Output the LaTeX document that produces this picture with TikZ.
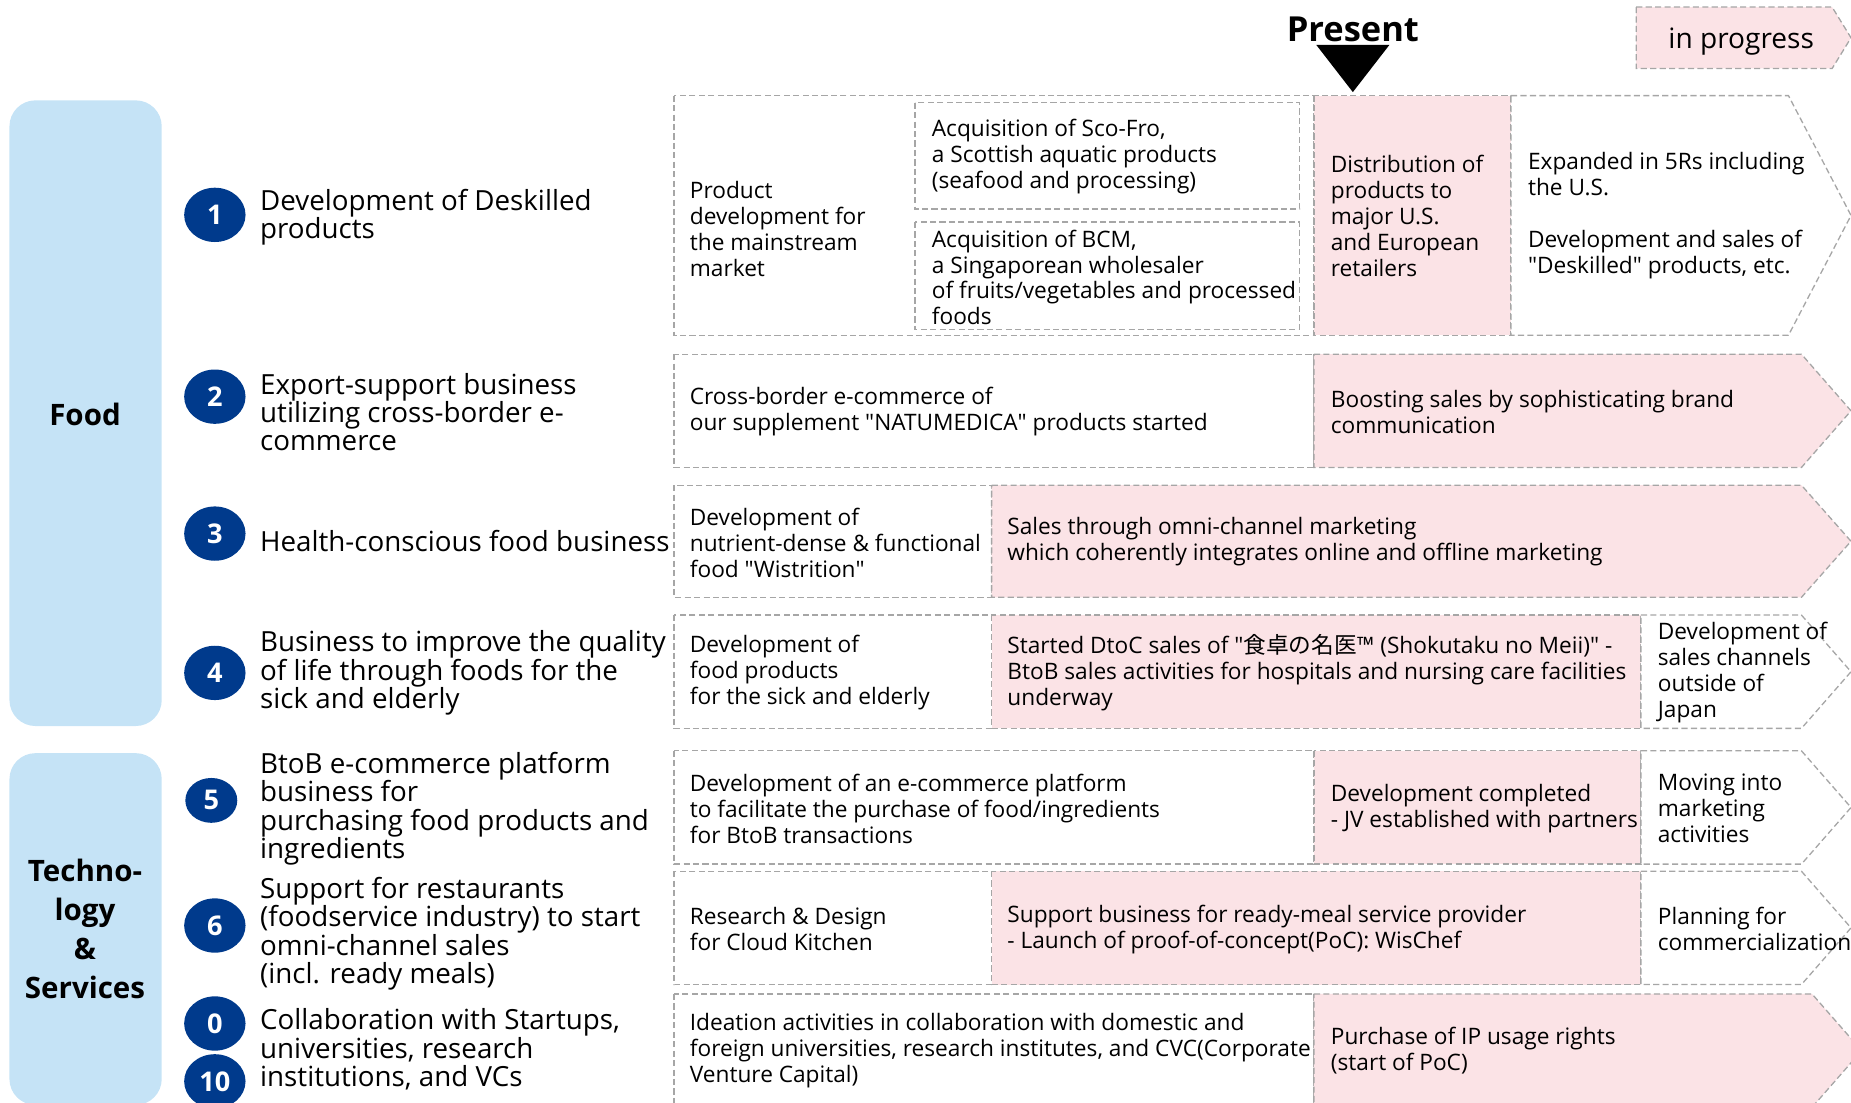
\documentclass[tikz,border=0pt]{standalone}
\usepackage{fontspec}
\setmainfont{Open Sans}
\newfontfamily\jpfont{Noto Sans CJK JP}
\usetikzlibrary{calc,positioning,shapes.geometric}

\definecolor{secblue}{HTML}{C5E3F6}
\definecolor{numnavy}{HTML}{003A8C}
\definecolor{progpink}{HTML}{FBE3E6}
\definecolor{dashgray}{HTML}{A6A6A6}

\newcommand{\itemfont}{\fontsize{11.75}{12}\selectfont}
\newcommand{\cellfont}{\fontsize{9.6}{11}\selectfont}
\newcommand{\qt}{\textquotedbl}

\tikzset{
  cell/.style={draw=dashgray,line width=.55pt,dash pattern=on 2.6pt off 1.4pt},
  whitecell/.style={cell,fill=white},
  pinkcell/.style={cell,fill=progpink},
  celltext/.style={anchor=west,align=left,inner sep=0pt,font=\cellfont},
  itemtext/.style={anchor=west,align=left,inner sep=0pt,font=\itemfont},
  numdot/.style={ellipse,fill=numnavy,text=white,inner sep=0pt,minimum width=26pt,minimum height=23pt,font=\fontsize{11.5}{12}\selectfont\bfseries},
  sectbox/.style={fill=secblue,rounded corners=11pt},
  secttext/.style={align=center,font=\fontsize{12.5}{16.5}\selectfont\bfseries},
}

\begin{document}
\begin{tikzpicture}[x=.5pt,y=-.5pt]
  \useasboundingbox (0,0) rectangle (1568,934);
  \clip (0,0) rectangle (1568,934);

  %% sections
  \fill[sectbox] (8,85) rectangle (137,615);
  \fill[sectbox] (8,638) rectangle (137,936);
  \node (food) [secttext] at (72,351) {Food};
  \node (tech) [secttext] at (72,787) {Techno-\\logy\\\&\\Services};

  %% numbered items
  \foreach \n/\y in {1/182,2/336,3/452,4/570,6/784,0/867,10/916}
    \node (num_\n) [numdot] at (182,\y) {\n};
  \node (num_5) [numdot,minimum width=22pt,minimum height=19pt] at (179,678) {5};

  \node (item_1) [itemtext] at (220,184) {Development of Deskilled\\products};
  \node (item_2) [itemtext] at (220,349) {Export-support business\\utilizing cross-border e-\\commerce};
  \node (item_3) [itemtext] at (220,458) {Health-conscious food business};
  \node (item_4) [itemtext] at (220,570) {Business to improve the quality\\of life through foods for the\\sick and elderly};
  \node (item_5) [itemtext] at (220,685) {BtoB e-commerce platform\\business for\\purchasing food products and\\ingredients};
  \node (item_6) [itemtext] at (220,791) {Support for restaurants\\(foodservice industry) to start\\omni-channel sales\\(incl. ready meals)};
  \node (item_0) [itemtext] at (220,889) {Collaboration with Startups,\\universities, research\\institutions, and VCs};

  %% legend and present marker
  \path[pinkcell] (1386,6) -- (1552,6) -- (1568,32) -- (1552,58) -- (1386,58) -- cycle;
  \node (legend) [font=\fontsize{11.9}{12}\selectfont] at (1475,35) {in progress};
  \node (present) [font=\fontsize{14.6}{15}\selectfont\bfseries] at (1146,25) {Present};
  \fill (1115,38) -- (1177,38) -- (1146,78) -- cycle;

  %% row 1
  \path[whitecell] (571,81) rectangle (1113,284);
  \path[pinkcell] (1113,81) rectangle (1280,284);
  \path[whitecell] (1280,81) -- (1515,81) -- (1568,182.5) -- (1515,284) -- (1280,284) -- cycle;
  \path[whitecell] (775,87) rectangle (1101,177);
  \path[whitecell] (775,188) rectangle (1101,279);
  \node (r1_a) [celltext] at (584,194) {Product\\development for\\the mainstream\\market};
  \node (r1_b) [celltext] at (789,133) {Acquisition of Sco-Fro,\\a Scottish aquatic products\\(seafood and processing)};
  \node (r1_c) [celltext] at (789,235) {Acquisition of BCM,\\a Singaporean wholesaler\\of fruits/vegetables and processed\\foods};
  \node (r1_d) [celltext] at (1127,183) {Distribution of\\products to\\major U.S.\\and European\\retailers};
  \node (r1_e) [celltext] at (1294,183) {Expanded in 5Rs including\\the U.S.\\[11pt]Development and sales of\\\qt Deskilled\qt{} products, etc.};

  %% row 2
  \path[whitecell] (571,300) rectangle (1113,396);
  \path[pinkcell] (1113,300) -- (1526,300) -- (1568,348) -- (1526,396) -- (1113,396) -- cycle;
  \node (r2_a) [celltext] at (584,349) {Cross-border e-commerce of\\our supplement \qt NATUMEDICA\qt{} products started};
  \node (r2_b) [celltext] at (1127,349) {Boosting sales by sophisticating brand\\communication};

  %% row 3
  \path[whitecell] (571,411) rectangle (840,506);
  \path[pinkcell] (840,411) -- (1526,411) -- (1568,458.5) -- (1526,506) -- (840,506) -- cycle;
  \node (r3_a) [celltext] at (584,460) {Development of\\nutrient-dense \& functional\\food \qt Wistrition\qt};
  \node (r3_b) [celltext] at (853,459) {Sales through omni-channel marketing\\which coherently integrates online and offline marketing};

  %% row 4
  \path[whitecell] (571,521) rectangle (840,617);
  \path[pinkcell] (840,521) rectangle (1390,617);
  \path[whitecell] (1390,521) -- (1526,521) -- (1568,569) -- (1526,617) -- (1390,617) -- cycle;
  \node (r4_a) [celltext] at (584,570) {Development of\\food products\\for the sick and elderly};
  \node (r4_b) [celltext] at (853,570) {Started DtoC sales of \qt{\jpfont 食卓の名医}™ (Shokutaku no Meii)\qt{} -\\BtoB sales activities for hospitals and nursing care facilities\\underway};
  \node (r4_c) [celltext] at (1404,570) {Development of\\sales channels\\outside of\\Japan};

  %% row 5
  \path[whitecell] (571,636) rectangle (1113,732);
  \path[pinkcell] (1113,636) rectangle (1390,732);
  \path[whitecell] (1390,636) -- (1526,636) -- (1568,684) -- (1526,732) -- (1390,732) -- cycle;
  \node (r5_a) [celltext] at (584,685) {Development of an e-commerce platform\\to facilitate the purchase of food/ingredients\\for BtoB transactions};
  \node (r5_b) [celltext] at (1127,685) {Development completed\\- JV established with partners};
  \node (r5_c) [celltext] at (1404,685) {Moving into\\marketing\\activities};

  %% row 6
  \path[whitecell] (571,738) rectangle (840,834);
  \path[pinkcell] (840,738) rectangle (1390,834);
  \path[whitecell] (1390,738) -- (1526,738) -- (1568,786) -- (1526,834) -- (1390,834) -- cycle;
  \node (r6_a) [celltext] at (584,787) {Research \& Design\\for Cloud Kitchen};
  \node (r6_b) [celltext] at (853,787) {Support business for ready-meal service provider\\- Launch of proof-of-concept(PoC): WisChef};
  \node (r6_c) [celltext] at (1404,787) {Planning for\\commercialization};

  %% row 7
  \path[whitecell] (571,842) rectangle (1113,938);
  \path[pinkcell] (1113,842) -- (1535,842) -- (1577,890) -- (1535,938) -- (1113,938) -- cycle;
  \node (r7_a) [celltext] at (584,890) {Ideation activities in collaboration with domestic and\\foreign universities, research institutes, and CVC(Corporate\\Venture Capital)};
  \node (r7_b) [celltext] at (1127,890) {Purchase of IP usage rights\\(start of PoC)};
\end{tikzpicture}
\end{document}
